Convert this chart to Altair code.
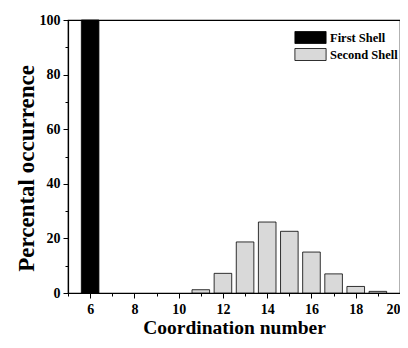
import altair as alt
import pandas as pd

coord = [6, 11, 12, 13, 14, 15, 16, 17, 18, 19]
percent = [100, 1.2, 7.2, 18.7, 26.0, 22.6, 15.0, 7.0, 2.4, 0.6]
shell = ["First Shell"] + ["Second Shell"] * 9

major_x = [6, 8, 10, 12, 14, 16, 18, 20]
minor_x = [5, 7, 9, 11, 13, 15, 17, 19]
major_y = [0, 20, 40, 60, 80, 100]
minor_y = [10, 30, 50, 70, 90]

df = pd.DataFrame({"coord": coord, "percent": percent, "shell": shell})

FONT = "Liberation Serif"

xscale = alt.Scale(domain=[5, 20], nice=False, zero=False, padding=0)
yscale = alt.Scale(domain=[0, 100], nice=False, padding=0)

bars = alt.Chart(df).mark_bar(size=17.6, stroke="black", strokeWidth=0.8).encode(
    x=alt.X("coord:Q", scale=xscale,
            axis=alt.Axis(values=major_x, title="Coordination number", orient="bottom",
                          tickSize=5, labelPadding=4, titlePadding=2, titleFontSize=19.5,
                          labelFlush=True)),
    y=alt.Y("percent:Q", scale=yscale,
            axis=alt.Axis(values=major_y, title="Percental occurrence", orient="left",
                          tickSize=5, labelPadding=3, titlePadding=1, titleFontSize=23,
                          titleY=148)),
    fill=alt.Fill("shell:N",
                  scale=alt.Scale(domain=["First Shell", "Second Shell"],
                                  range=["black", "#d9d9d9"]),
                  legend=alt.Legend(title=None, orient="none", legendX=236, legendY=11,
                                    symbolType="M-2.6,-1H2.6V1H-2.6Z", symbolSize=144,
                                    symbolStrokeColor="black", symbolStrokeWidth=0.8,
                                    labelFont=FONT, labelFontSize=12.5, labelFontWeight="bold",
                                    labelColor="black", rowPadding=0, labelOffset=13,
                                    padding=0)),
)

minor = alt.Chart(df).mark_bar(opacity=0).encode(
    x=alt.X("coord:Q", scale=xscale,
            axis=alt.Axis(values=minor_x, labels=False, title=None, orient="bottom",
                          tickSize=3, domain=False)),
    y=alt.Y("percent:Q", scale=yscale,
            axis=alt.Axis(values=minor_y, labels=False, title=None, orient="left",
                          tickSize=3, domain=False)),
)

chart = alt.layer(bars, minor).resolve_axis(x="independent", y="independent").properties(
    width=332, height=273,
    autosize=alt.AutoSizeParams(type="none"),
    padding={"left": 60, "top": 12, "right": 0, "bottom": 47},
).configure_view(stroke="black", strokeWidth=1.2).configure_axis(
    grid=False, domainColor="black", domainWidth=1.2, tickColor="black", tickWidth=1,
    labelFont=FONT, labelFontSize=14, labelFontWeight="bold", labelColor="black",
    titleFont=FONT, titleFontWeight="bold", titleColor="black",
)

chart.save("out.html", embed_options={"renderer": "svg", "actions": False})
